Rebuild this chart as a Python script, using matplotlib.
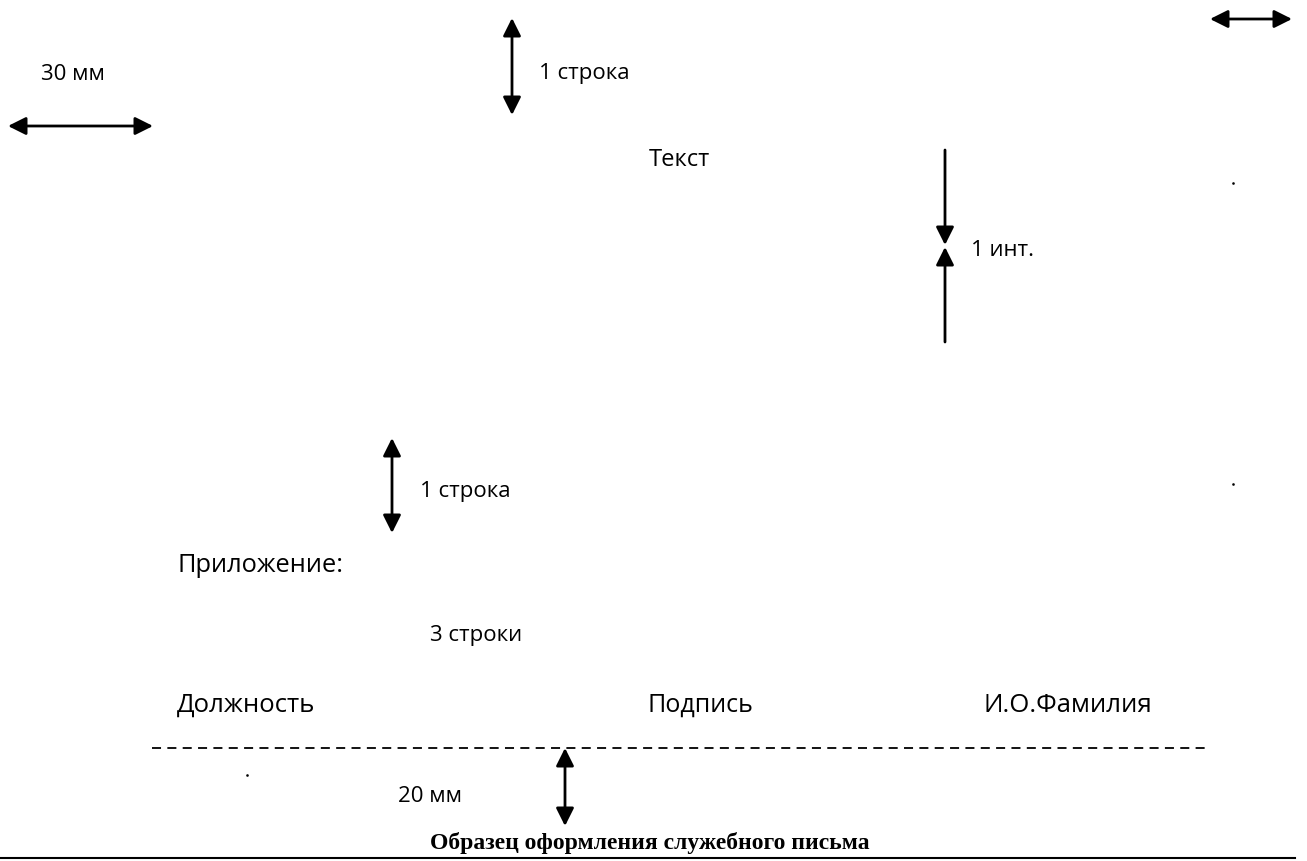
import matplotlib.pyplot as plt

# Labels of the letter layout sample
labels = ['30 мм', '1 строка', 'Текст', '1 инт.', '1 строка',
          'Приложение:', '3 строки', 'Должность', 'Подпись', 'И.О.Фамилия', '20 мм']
label_x = [41, 539, 649, 971, 420, 178, 430, 177, 647, 984, 398]
label_y = [74, 73, 160, 250, 491, 566, 636, 705, 705, 705, 797]
label_size = [16, 16, 17, 16, 16, 18.3, 16, 18.5, 18, 18.5, 16]

caption = 'Образец оформления служебного письма'

# double arrows: (x1, y1, x2, y2)
double_arrows = [
    (8, 126, 153, 126),
    (512, 18, 512, 115),
    (1210, 19, 1292, 19),
    (392, 438, 392, 533),
    (565, 748, 565, 826),
]

fig = plt.figure(figsize=(13.07, 8.61), dpi=100)
ax = fig.add_axes([0, 0, 1, 1])
ax.set_xlim(0, 1307)
ax.set_ylim(861, 0)
ax.axis('off')

font = ['Open Sans', 'DejaVu Sans']
arrow_kw = dict(color='black', lw=2, mutation_scale=27, shrinkA=0, shrinkB=0)

for x1, y1, x2, y2 in double_arrows:
    ax.annotate('', xy=(x2, y2), xytext=(x1, y1),
                arrowprops=dict(arrowstyle='<|-|>', **arrow_kw))

# "1 инт." interval marker: two arrows pointing at each other
ax.annotate('', xy=(945, 245), xytext=(945, 150),
            arrowprops=dict(arrowstyle='-|>', **arrow_kw))
ax.annotate('', xy=(945, 247), xytext=(945, 342),
            arrowprops=dict(arrowstyle='-|>', **arrow_kw))

for txt, x, y, s in zip(labels, label_x, label_y, label_size):
    ax.text(x, y, txt, fontsize=s, family=font, ha='left', va='center')

# bottom margin dashed line
ax.plot([152, 1210], [748, 748], color='black', lw=1.3, linestyle=(0, (5, 3.5)))

# tiny specks in the scan
ax.plot([1233, 1233, 247], [183, 484, 775], 's', color='black', ms=0.8)

ax.text(650, 843, caption, fontsize=17, family='Liberation Serif',
        fontweight='bold', ha='center', va='center')
ax.plot([0, 1295], [858, 858], color='black', lw=1.5)

fig.savefig('out.png', dpi=100)
